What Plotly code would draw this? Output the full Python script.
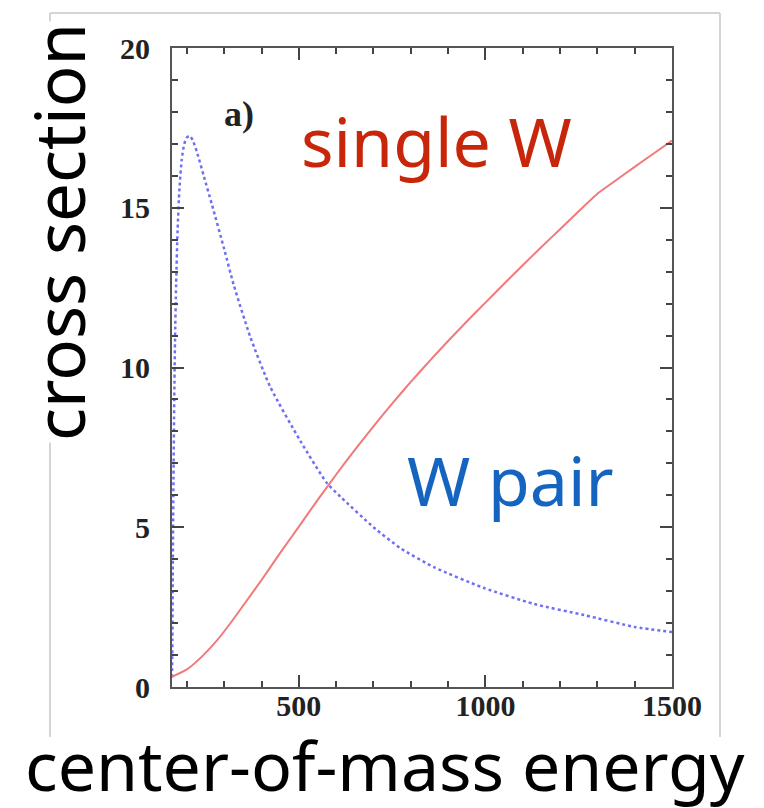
import plotly.graph_objects as go

# ---- data ----
single_w_energy = [160, 200, 240, 280, 320, 360, 400, 450, 500, 550, 600, 650, 700, 750, 800,
                   850, 900, 950, 1000, 1050, 1100, 1150, 1200, 1250, 1300, 1350, 1400, 1450, 1500]
single_w_xsec = [0.32, 0.55, 0.95, 1.45, 2.05, 2.7, 3.35, 4.2, 5.02, 5.85, 6.65, 7.42, 8.16, 8.87, 9.55,
                 10.2, 10.83, 11.44, 12.03, 12.62, 13.2, 13.77, 14.33, 14.89, 15.44, 15.86, 16.28, 16.69, 17.1]

w_pair_energy = [160, 161, 162, 164, 166, 168, 171, 175, 180, 186, 193, 200, 208, 216, 228, 245, 267,
                 300, 325, 370, 423, 504, 576, 612, 700, 773, 862, 996, 1130, 1265, 1400, 1500]
w_pair_xsec = [0.3, 1.5, 3.5, 6.5, 9.0, 10.8, 12.6, 14.3, 15.6, 16.5, 17.0, 17.2, 17.25, 17.1, 16.7, 16.0, 15.1,
               13.7, 12.6, 10.95, 9.4, 7.7, 6.37, 5.95, 5.0, 4.34, 3.75, 3.1, 2.6, 2.25, 1.88, 1.72]

x_range = [160, 1500]
y_range = [0, 20]
x_tickvals = [500, 1000, 1500]
y_tickvals = [0, 5, 10, 15, 20]

# ---- figure geometry (pixels) ----
W, H = 764, 808
L, R, T, B = 172, 92, 48, 121
PW, PH = W - L - R, H - T - B


def px(xp):
    return (xp - L) / PW


def py(yp):
    return (H - B - yp) / PH


fig = go.Figure()
fig.add_trace(go.Scatter(x=w_pair_energy, y=w_pair_xsec, mode="lines",
                         line=dict(color="#6f6ff5", width=2.5, dash="dot", shape="spline", smoothing=0.6),
                         showlegend=False, hoverinfo="skip"))
fig.add_trace(go.Scatter(x=single_w_energy, y=single_w_xsec, mode="lines",
                         line=dict(color="#f07a7a", width=2, shape="spline", smoothing=0.5),
                         showlegend=False, hoverinfo="skip"))

tickfont = dict(family="Liberation Serif", size=30, color="#222222", weight="bold")
axis_common = dict(showgrid=False, zeroline=False, showline=True, linecolor="#555555", linewidth=2,
                   mirror="allticks", ticks="inside", ticklen=12, tickwidth=2, tickcolor="#444444",
                   tickfont=tickfont)

fig.update_xaxes(range=x_range, tickvals=x_tickvals, ticklabelstandoff=-9,
                 minor=dict(dtick=100, tick0=0, ticks="inside", ticklen=6, tickwidth=2, tickcolor="#444444"),
                 **axis_common)
fig.update_yaxes(range=y_range, tickvals=y_tickvals, ticklabelstandoff=14,
                 minor=dict(dtick=1, tick0=0, ticks="inside", ticklen=6, tickwidth=2, tickcolor="#444444"),
                 **axis_common)

big = "Noto Sans"
annotations = [
    dict(text="a)", x=px(239), y=py(114), font=dict(family="Liberation Serif", size=36, color="#222222", weight="bold")),
    dict(text="single W", x=px(436), y=py(140), font=dict(family=big, size=68, color="#c8260a")),
    dict(text="W pair", x=px(510), y=py(479), font=dict(family=big, size=68, color="#1565c0")),
    dict(text="cross section", x=px(58), y=py(232), textangle=-90, bgcolor="white",
         font=dict(family=big, size=69, color="#000000")),
    dict(text="center-of-mass energy", x=px(385), y=py(764),
         font=dict(family=big, size=68, color="#000000")),
]
for a in annotations:
    a.update(xref="paper", yref="paper", showarrow=False, xanchor="center", yanchor="middle")

border = dict(xref="paper", yref="paper", type="line", line=dict(color="#d4d4d4", width=2), layer="below")
fig.update_layout(
    width=W, height=H, margin=dict(l=L, r=R, t=T, b=B),
    paper_bgcolor="white", plot_bgcolor="white",
    annotations=annotations,
    shapes=[
        dict(x0=px(50), x1=px(720), y0=py(13), y1=py(13), **border),
        dict(x0=px(50), x1=px(50), y0=py(13), y1=py(737), **border),
        dict(x0=px(720), x1=px(720), y0=py(13), y1=py(737), **border),
    ],
)

fig.write_html("out.html")
